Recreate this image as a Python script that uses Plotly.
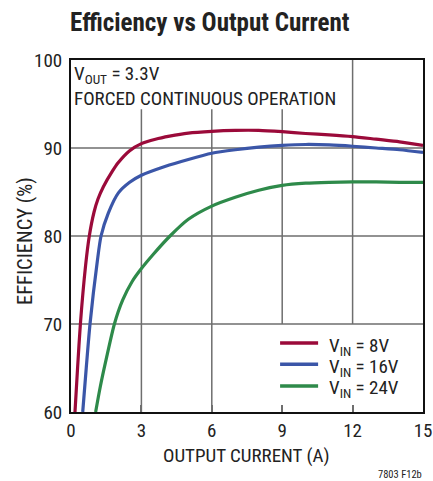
import plotly.graph_objects as go

# Efficiency (%) vs output current (A), VOUT = 3.3V, forced continuous mode
current_8v = [0.17, 0.28, 0.40, 0.62, 0.78, 0.98, 1.15, 1.38, 1.77, 2.0, 2.5, 3.0,
              3.6, 4.2, 5.0, 6.0, 7.0, 8.0, 9.0, 10.0, 11.0, 12.0, 13.0, 14.0, 15.0]
eff_8v = [60, 65, 70, 76.6, 80, 82.7, 84.2, 85.6, 87.4, 88.3, 89.7, 90.5,
          91.0, 91.35, 91.7, 91.9, 92.0, 92.0, 91.85, 91.65, 91.5, 91.3, 91.0, 90.7, 90.3]

current_16v = [0.50, 0.65, 0.81, 1.12, 1.28, 1.59, 2.02, 2.5, 3.0, 4.0, 5.0,
               6.0, 7.0, 8.0, 9.0, 10.0, 11.0, 12.0, 13.0, 14.0, 15.0]
eff_16v = [60, 65, 70, 77.1, 80, 82.6, 84.9, 86.1, 86.9, 87.9, 88.7,
           89.4, 89.8, 90.1, 90.3, 90.4, 90.35, 90.2, 90.0, 89.8, 89.5]

current_24v = [1.05, 1.25, 1.5, 1.85, 2.2, 2.6, 3.0, 3.5, 4.22, 5.0, 6.0,
               7.0, 8.0, 9.0, 10.0, 11.0, 12.0, 13.0, 14.0, 15.0]
eff_24v = [60, 62.9, 66.0, 70, 72.7, 74.8, 76.3, 77.9, 80, 81.9, 83.4,
           84.4, 85.2, 85.75, 86.0, 86.1, 86.15, 86.15, 86.1, 86.1]

series_names = ["V<sub>IN</sub> = 8V", "V<sub>IN</sub> = 16V", "V<sub>IN</sub> = 24V"]
series_colors = ["#9B0A3A", "#3B56A8", "#2E8A4A"]

x_ticks = [0, 3, 6, 9, 12, 15]
y_ticks = [60, 70, 80, 90, 100]

FONT = "Roboto Condensed, Liberation Sans, sans-serif"
TXT = "#222222"
GRID = "#6E6E6E"

fig = go.Figure()
for xs, ys, name, col in zip([current_8v, current_16v, current_24v],
                             [eff_8v, eff_16v, eff_24v],
                             series_names, series_colors):
    fig.add_trace(go.Scatter(x=xs, y=ys, mode="lines", name=name, showlegend=False,
                             line=dict(color=col, width=3.2, shape="spline", smoothing=0.7)))

# grid segments, kept clear of the note text and the key
grid = [
    dict(x0=0, x1=15, y0=70, y1=70),
    dict(x0=0, x1=15, y0=80, y1=80),
    dict(x0=0, x1=15, y0=90, y1=90),
    dict(x0=3, x1=3, y0=60, y1=94.4),
    dict(x0=6, x1=6, y0=60, y1=94.4),
    dict(x0=9, x1=9, y0=70, y1=94.4),
    dict(x0=12, x1=12, y0=70, y1=100),
]
for g in grid:
    fig.add_shape(type="line", xref="x", yref="y", layer="below",
                  line=dict(color=GRID, width=1.5), **g)

# key in the lower-right corner: a short line sample and a label per series
key_rows = [0.196, 0.136, 0.074]
for name, col, ky in zip(series_names, series_colors, key_rows):
    fig.add_shape(type="line", xref="paper", yref="paper", x0=0.594, x1=0.702,
                  y0=ky, y1=ky, line=dict(color=col, width=3.5))
    fig.add_annotation(x=0.728, y=ky, xref="paper", yref="paper", xanchor="left",
                       yanchor="middle", xshift=0, yshift=-3, showarrow=False, text=name,
                       font=dict(family=FONT, size=19, color=TXT))

fig.add_annotation(x=0, y=1, xref="paper", yref="paper", xanchor="left", yanchor="top",
                   xshift=1, yshift=0, align="left", showarrow=False,
                   text="V<sub>OUT</sub> = 3.3V<br>FORCED CONTINUOUS OPERATION",
                   font=dict(family=FONT, size=19, color=TXT))

# axis titles
fig.add_annotation(x=0.5, y=0, xref="paper", yref="paper", xanchor="center",
                   yanchor="middle", xshift=-1, yshift=-43, showarrow=False,
                   text="OUTPUT CURRENT (A)", font=dict(family=FONT, size=19, color=TXT))
fig.add_annotation(x=0, y=0.5, xref="paper", yref="paper", xanchor="center",
                   yanchor="middle", xshift=-46, yshift=-5, textangle=-90, showarrow=False,
                   text="EFFICIENCY (%)", font=dict(family=FONT, size=20.5, color=TXT))

fig.add_annotation(x=1, y=0, xref="paper", yref="paper", xanchor="right", yanchor="middle",
                   xshift=1, yshift=-62, showarrow=False, text="7803 F12b",
                   font=dict(family=FONT, size=10.5, color=TXT))

fig.update_layout(
    width=433, height=481,
    margin=dict(l=71, r=10, t=60, b=69),
    paper_bgcolor="white", plot_bgcolor="white",
    font=dict(family=FONT, size=19, color=TXT),
    title=dict(text="<b>Efficiency vs Output Current</b>", x=70 / 433, xanchor="left",
               y=1 - 22 / 481, yanchor="middle",
               font=dict(family=FONT, size=25, color=TXT)),
    showlegend=False,
)
fig.update_xaxes(range=[0, 15], tickvals=x_ticks, showgrid=False, zeroline=False,
                 automargin=False,
                 showline=True, linecolor="#111111", linewidth=2, mirror=True,
                 ticks="inside", ticklen=7, tickcolor=GRID, tickwidth=1.5,
                 tickfont=dict(size=19))
fig.update_yaxes(range=[60, 100], tickvals=y_ticks, showgrid=False, zeroline=False,
                 automargin=False,
                 showline=True, linecolor="#111111", linewidth=2, mirror=True,
                 ticks="", tickfont=dict(size=19), ticklabelstandoff=3)

fig.write_html("out.html")
